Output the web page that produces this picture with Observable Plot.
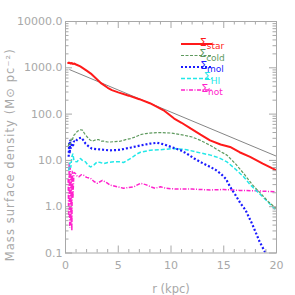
<!DOCTYPE html>
<html><head><meta charset="utf-8">
<script src="https://cdn.jsdelivr.net/npm/d3@7"></script>
<script src="https://cdn.jsdelivr.net/npm/@observablehq/plot@0.6"></script>
<style>
html,body{margin:0;padding:0;background:#fff;}
svg{display:block;}
</style>
</head><body>
<div id="chart"></div>
<script>
// radius (kpc), surface density (Msun pc^-2)
const sigmaStar = [[0.2,1320],[0.3,1250],[0.4,1300],[0.5,1220],[0.6,1280],[0.7,1200],[0.8,1240],[1.0,1180],[1.4,1070],[2.0,870],[2.4,750],[3.0,560],[3.4,460],[4.0,370],[4.4,330],[5.0,295],[6.0,250],[7.0,210],[8.0,172],[8.5,150],[9.3,121],[10.3,80],[11.0,65],[11.85,49],[12.8,36],[13.7,27],[14.7,22],[15.6,19.5],[16.5,15],[17.5,11.9],[18.7,8.5],[20,6.1]];
const sigmaExp = [[0.4,910],[20,12.3]];
const sigmaCold = [[0.25,20],[0.35,24],[0.45,22],[0.55,30],[0.65,28],[0.8,35],[0.95,38],[1.1,42],[1.36,46],[1.6,45],[1.8,38],[2.06,32],[2.3,28],[2.53,26],[2.9,28],[3.16,28],[3.4,26],[3.63,26],[4.0,25],[4.27,25],[4.7,25.5],[5.2,26],[5.7,28],[6.16,29.6],[6.6,32],[7.1,36],[7.6,38],[8.0,39],[9.0,40],[10.0,39],[11.2,35],[12.0,32],[12.8,27],[13.74,21],[14.5,16.5],[15.3,13],[16.1,8.5],[16.9,5.2],[17.7,3.0],[18.5,1.94],[19.2,1.3],[20,0.9]];
const sigmaMol = [[0.3,12],[0.35,25],[0.4,14],[0.45,28],[0.5,18],[0.6,22],[0.7,20],[0.8,26],[0.95,25],[1.1,28],[1.26,30],[1.5,31],[1.7,27],[1.9,23],[2.2,20],[2.5,18],[3.0,17.5],[3.6,17],[4.1,16.5],[4.6,16.6],[5.2,17],[5.7,18],[6.2,19],[7.1,21],[8.0,23],[8.7,24],[9.4,22],[10.0,19.5],[10.9,16.6],[11.5,14],[12.2,11],[12.8,9.2],[13.74,7.2],[14.2,6.3],[14.7,5.2],[15.2,4.0],[15.6,2.7],[16.1,1.8],[16.6,1.17],[17.06,0.85],[17.7,0.42],[18.4,0.175],[18.96,0.1],[19.3,0.07]];
const sigmaHI = [[0.3,6],[0.4,9],[0.5,7],[0.6,12],[0.7,14],[0.8,10],[0.95,9.5],[1.1,9.3],[1.25,10.5],[1.42,11],[1.6,10],[1.9,9.3],[2.1,8],[2.37,7.2],[2.7,8],[3.0,9.3],[3.3,9],[3.63,8.5],[4.0,9],[4.58,9.3],[5.2,9.3],[5.5,9],[5.85,10],[6.3,11.5],[6.7,13.5],[7.1,15],[8.06,16.6],[9.0,17],[10.3,18],[11.5,17],[12.5,15],[13.74,13],[14.5,11.5],[15.3,9.3],[16.1,6.5],[16.9,4.4],[17.5,3.0],[18.2,2.1],[19.0,1.4],[20,0.82]];
const sigmaHot = [[0.25,4],[0.3,0.6],[0.35,9],[0.4,0.35],[0.45,7],[0.5,0.4],[0.55,5],[0.6,0.3],[0.65,6],[0.7,1.5],[0.8,5.5],[0.95,5.2],[1.1,4.6],[1.26,4.4],[1.5,4.9],[1.7,4.8],[2.0,4.3],[2.37,4.1],[2.7,3.5],[3.0,3.2],[3.5,3.7],[3.9,3.3],[4.27,2.9],[4.9,2.7],[5.5,2.5],[6.0,2.6],[6.5,2.7],[7.1,3.2],[7.6,3.0],[8.06,2.7],[8.5,2.5],[9.0,2.7],[9.5,2.5],[10.5,2.4],[12.0,2.4],[13.74,2.3],[15.0,2.35],[16.5,2.25],[18.0,2.2],[20,2.1]];

const xMajor = [0,5,10,15,20];
const xMinor = [1,2,3,4,6,7,8,9,11,12,13,14,16,17,18,19];
const yMajor = [0.1,1,10,100,1000,10000];
const yMinor = [0.2,0.3,0.4,0.5,0.6,0.7,0.8,0.9,2,3,4,5,6,7,8,9,20,30,40,50,60,70,80,90,200,300,400,500,600,700,800,900,2000,3000,4000,5000,6000,7000,8000,9000];

const legendLabels = ["star","cold","mol","HI","hot"];
const xLabel = "r (kpc)";
const yLabel = "Mass surface density (M\u2299 pc\u207B\u00B2)";

const styles = {
  star: {stroke:"#ff1a1a", strokeWidth:2, dash:null},
  cold: {stroke:"#5f9a5f", strokeWidth:1.2, dash:"3,1.5"},
  mol:  {stroke:"#1a1aff", strokeWidth:2.2, dash:"2,2"},
  HI:   {stroke:"#22e8e8", strokeWidth:1.5, dash:"4,2"},
  hot:  {stroke:"#ff22cc", strokeWidth:1.5, dash:"4,1.5,1,1.5"}
};
const axisColor = "#a8a8a8";
const W = 295, H = 295, mL = 65, mR = 19, mT = 21, mB = 42.5;
const pw = W - mL - mR, ph = H - mT - mB;

const lineOf = (data, s) => Plot.line(data, {x: d => d[0], y: d => d[1], stroke: s.stroke, strokeWidth: s.strokeWidth, strokeDasharray: s.dash, strokeLinecap: "butt", strokeLinejoin: "miter", clip: true});

const chart = Plot.plot({
  width: W, height: H,
  marginLeft: mL, marginRight: mR, marginTop: mT, marginBottom: mB,
  style: {fontFamily: "DejaVu Sans", background: "#fff"},
  x: {domain: [0,20], axis: null},
  y: {type: "log", domain: [0.1,10000], axis: null},
  marks: [
    Plot.line(sigmaExp, {x: d => d[0], y: d => d[1], stroke: "#858585", strokeWidth: 1, clip: true}),
    lineOf(sigmaHot, styles.hot),
    lineOf(sigmaHI, styles.HI),
    lineOf(sigmaMol, styles.mol),
    lineOf(sigmaCold, styles.cold),
    lineOf(sigmaStar, styles.star),
    Plot.frame({stroke: axisColor}),
    Plot.ruleY(yMajor, {y: d => d, insetRight: pw - 7, stroke: axisColor}),
    Plot.ruleY(yMajor, {y: d => d, insetLeft: pw - 7, stroke: axisColor}),
    Plot.ruleY(yMinor, {y: d => d, insetRight: pw - 3.5, stroke: axisColor}),
    Plot.ruleY(yMinor, {y: d => d, insetLeft: pw - 3.5, stroke: axisColor}),
    Plot.ruleX(xMajor, {x: d => d, insetTop: ph - 7, stroke: axisColor}),
    Plot.ruleX(xMajor, {x: d => d, insetBottom: ph - 7, stroke: axisColor}),
    Plot.ruleX(xMinor, {x: d => d, insetTop: ph - 3.5, stroke: axisColor}),
    Plot.ruleX(xMinor, {x: d => d, insetBottom: ph - 3.5, stroke: axisColor}),
    Plot.axisY(yMajor, {tickSize: 0, tickPadding: 3, tickFormat: d3.format(".1f"), fill: axisColor, fontSize: 11, label: null}),
    Plot.axisX(xMajor, {tickSize: 0, tickPadding: 8, tickFormat: d => String(d), fill: axisColor, fontSize: 11, label: null}),
    Plot.text([xLabel], {text: d => d, frameAnchor: "bottom", dy: 40, fill: axisColor, fontSize: 11.5}),
    Plot.text([yLabel], {text: d => d, frameAnchor: "left", textAnchor: "middle", lineAnchor: "middle", rotate: -90, dx: -55, dy: 18, fill: axisColor, fontSize: 11.5, className: "ylab"})
  ]
});

const svg = d3.select(chart);
svg.selectAll(".ylab text").attr("textLength", 212).attr("lengthAdjust", "spacing");

// legend (inside top-right of the frame)
const leg = svg.append("g");
const rowY = [44, 55.5, 67, 78.5, 90];
legendLabels.forEach((k, i) => {
  const s = styles[k];
  const y = rowY[i];
  leg.append("line").attr("x1", 181).attr("x2", 212).attr("y1", y).attr("y2", y)
    .attr("stroke", s.stroke).attr("stroke-width", s.strokeWidth)
    .attr("stroke-dasharray", s.dash);
  const t = leg.append("text").attr("x", 212).attr("y", y + 1.5)
    .attr("fill", s.stroke).attr("font-family", "DejaVu Sans").attr("font-size", 11);
  t.append("tspan").text("\u03A3");
  t.append("tspan").attr("dy", 3.5).attr("font-size", 9).text(k);
});

document.getElementById("chart").appendChild(chart);
</script>
</body></html>
